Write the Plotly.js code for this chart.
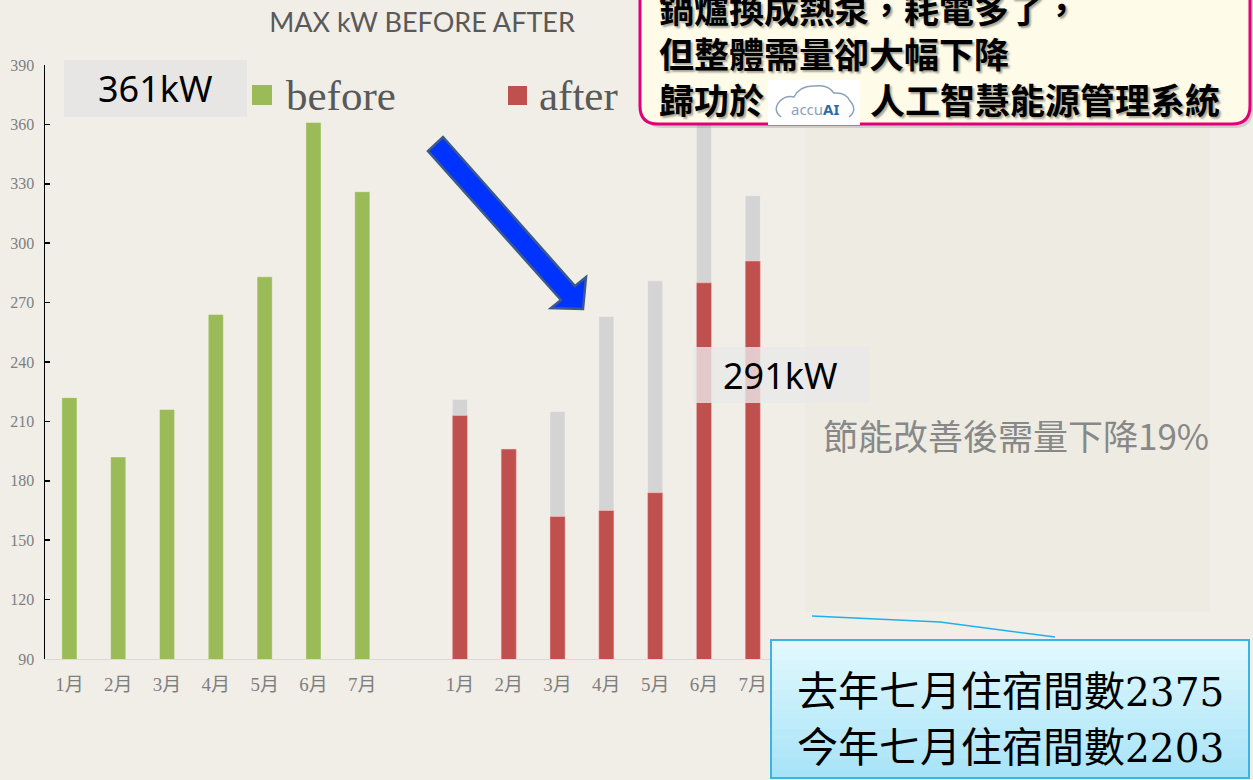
<!DOCTYPE html>
<html>
<head>
<meta charset="utf-8">
<script src="https://cdn.plot.ly/plotly-3.0.1.min.js"></script>
<style>
  html, body { margin: 0; padding: 0; background: #f1ede7; }
  #chart { width: 1253px; height: 780px; }
</style>
</head>
<body>
<div id="chart"></div>
<script>
// ---- data ----
const months = ['1月', '2月', '3月', '4月', '5月', '6月', '7月'];
const beforeKW = [222, 192, 216, 264, 283, 361, 326];
const lastYearRefKW = [221, 192, 215, 263, 281, 361, 324];
const afterKW = [213, 196, 162, 165, 174, 280, 291];
const groupGap = 8; // after-group starts at slot 8

// ---- pixel -> paper helpers for decorations ----
const L = 45, R = 826, T = 65, B = 659;
const X = x => (x - L) / (R - L);
const Y = y => (B - y) / (B - T);
const pt = (x, y) => X(x).toFixed(5) + ',' + Y(y).toFixed(5);

const beforeX = months.map((m, i) => i);
const afterX = months.map((m, i) => i + groupGap);

const traces = [
  { type: 'bar', name: 'before', x: beforeX, y: beforeKW, width: 0.31,
    marker: { color: '#9bbb59', line: { color: 'rgba(255,255,255,0.35)', width: 1 } },
    hoverinfo: 'y', showlegend: false },
  { type: 'bar', name: 'last year', x: afterX, y: lastYearRefKW, width: 0.31,
    marker: { color: '#d4d4d4', line: { color: 'rgba(255,255,255,0.3)', width: 1 } },
    hoverinfo: 'y', showlegend: false },
  { type: 'bar', name: 'after', x: afterX, y: afterKW, width: 0.31,
    marker: { color: '#c0504d', line: { color: 'rgba(255,200,200,0.5)', width: 1 } },
    hoverinfo: 'y', showlegend: false }
];

function rect(x0, y0, x1, y1, fill, extra) {
  return Object.assign({ type: 'rect', xref: 'paper', yref: 'paper',
    x0: X(x0), x1: X(x1), y0: Y(y1), y1: Y(y0),
    fillcolor: fill, line: { width: 0 }, layer: 'above' }, extra || {});
}
function path(d, fill, line, extra) {
  return Object.assign({ type: 'path', xref: 'paper', yref: 'paper', path: d,
    fillcolor: fill, line: line, layer: 'above' }, extra || {});
}

// arrow polygon
const arrowD = 'M ' + pt(443, 137) + ' L ' + pt(575, 286) + ' L ' + pt(586, 277) +
  ' L ' + pt(583, 309) + ' L ' + pt(551, 308) + ' L ' + pt(561, 300) +
  ' L ' + pt(428, 151) + ' Z';

// callout rounded rectangle (top part off-screen)
const cx0 = 640, cx1 = 1250, cy0 = -30, cy1 = 124, rr = 18;
const calloutD = 'M ' + pt(cx0, cy0) + ' L ' + pt(cx0, cy1 - rr) +
  ' Q ' + pt(cx0, cy1) + ' ' + pt(cx0 + rr, cy1) +
  ' L ' + pt(cx1 - rr, cy1) + ' Q ' + pt(cx1, cy1) + ' ' + pt(cx1, cy1 - rr) +
  ' L ' + pt(cx1, cy0) + ' Z';
const calloutShadowD = 'M ' + pt(cx0 + 4, cy0) + ' L ' + pt(cx0 + 4, cy1 + 4 - rr) +
  ' Q ' + pt(cx0 + 4, cy1 + 4) + ' ' + pt(cx0 + 4 + rr, cy1 + 4) +
  ' L ' + pt(cx1 + 3 - rr, cy1 + 4) + ' Q ' + pt(cx1 + 3, cy1 + 4) + ' ' + pt(cx1 + 3, cy1 + 4 - rr) +
  ' L ' + pt(cx1 + 3, cy0) + ' Z';

// cloud logo outline
const cloudD = 'M ' + pt(781, 117) + ' Q ' + pt(772, 110) + ' ' + pt(780, 101) +
  ' Q ' + pt(786, 95) + ' ' + pt(794, 97) + ' Q ' + pt(800, 85) + ' ' + pt(815, 86) +
  ' Q ' + pt(828, 84) + ' ' + pt(834, 93) + ' Q ' + pt(846, 92) + ' ' + pt(850, 101) +
  ' Q ' + pt(858, 110) + ' ' + pt(849, 117);

// connector line
const lineD = 'M ' + pt(812, 616) + ' L ' + pt(940, 622) + ' L ' + pt(1055, 637);

const shapes = [
  rect(805, 125, 1210, 612, '#edebe2', { layer: 'below' }),
  rect(64, 60, 247, 117, '#e7e6e4', { layer: 'below' }),
  rect(252, 85, 272, 105, '#9bbb59'),
  rect(508, 86, 527, 105, '#c0504d'),
  rect(693, 347, 870, 403, 'rgba(232,232,232,0.8)'),
  path(arrowD, '#0033ff', { color: '#3a5a8c', width: 2.5 }),
  path(calloutShadowD, 'rgba(120,120,120,0.25)', { width: 0 }),
  path(calloutD, '#fefce8', { color: '#e0007a', width: 3 }),
  rect(768, 80, 860, 125, '#ffffff'),
  path(cloudD, 'rgba(0,0,0,0)', { color: '#8aa2bb', width: 1.5 }),
  path(lineD, 'rgba(0,0,0,0)', { color: '#1fb0ea', width: 1.5 })
];

// bottom-right gradient box
const bx0 = 771, bx1 = 1249, by0 = 640, by1 = 778, strips = 14;
const c0 = [227, 249, 254], c1 = [166, 227, 247];
for (let i = 0; i < strips; i++) {
  const t = (i + 0.5) / strips;
  const c = c0.map((v, k) => Math.round(v + (c1[k] - v) * t));
  const ya = by0 + (by1 - by0) * i / strips;
  const yb = by0 + (by1 - by0) * (i + 1) / strips + 0.5;
  shapes.push(rect(bx0, ya, bx1, yb, 'rgb(' + c.join(',') + ')'));
}
shapes.push(rect(bx0, by0, bx1, by1, 'rgba(0,0,0,0)', { line: { color: '#3ab4e4', width: 2 } }));

function ann(text, px, py, opts) {
  return Object.assign({ text: text, xref: 'paper', yref: 'paper', x: X(px), y: Y(py),
    showarrow: false, xanchor: 'center', yanchor: 'middle' }, opts || {});
}
const cjk = 'Noto Sans CJK TC, Noto Sans, sans-serif';
const calloutFont = { family: cjk, size: 35, color: '#000', weight: 700,
  shadow: '2px 2px 2px rgba(0,0,0,0.35)' };
const digit = s => '<span style="font-family:DejaVu Serif;font-size:39px">' + s + '</span>';

const annotations = [
  ann('361kW', 155, 88, { font: { family: 'Noto Sans, sans-serif', size: 36, color: '#000' } }),
  ann('before', 284, 95, { xanchor: 'left', font: { family: 'Liberation Serif, serif', size: 43, color: '#595959' } }),
  ann('after', 537, 95, { xanchor: 'left', font: { family: 'Liberation Serif, serif', size: 43, color: '#595959' } }),
  ann('291kW', 780, 375, { font: { family: 'Noto Sans, sans-serif', size: 36, color: '#000' } }),
  ann('節能改善後需量下降19%', 1016, 434, { font: { family: cjk, size: 35, color: '#888888' } }),
  ann('鍋爐換成熱泵，耗電多了，', 657, 8, { xanchor: 'left', font: calloutFont }),
  ann('但整體需量卻大幅下降', 657, 52, { xanchor: 'left', font: calloutFont }),
  ann('歸功於', 657, 98, { xanchor: 'left', font: calloutFont }),
  ann('人工智慧能源管理系統', 868, 98, { xanchor: 'left', font: calloutFont }),
  ann('<span style="color:#8aa2bb">accu</span><b style="color:#2c6aa6">AI</b>', 815, 109,
    { font: { family: 'Noto Sans, sans-serif', size: 15, color: '#8aa2bb' } }),
  ann('去年七月住宿間數' + digit('2375'), 1010, 688,
    { font: { family: cjk, size: 41, color: '#000' } }),
  ann('今年七月住宿間數' + digit('2203'), 1010, 744,
    { font: { family: cjk, size: 41, color: '#000' } })
];

const layout = {
  width: 1253, height: 780,
  paper_bgcolor: '#f1ede7', plot_bgcolor: 'rgba(0,0,0,0)',
  margin: { l: L, r: 1253 - R, t: T, b: 780 - B, pad: 0 },
  barmode: 'overlay',
  title: { text: 'MAX kW BEFORE AFTER', x: 422 / 1253, xanchor: 'center',
    y: 1 - 23 / 780, yanchor: 'middle', xref: 'container', yref: 'container',
    font: { family: 'Lato, Noto Sans, sans-serif', size: 27, color: '#595959' } },
  xaxis: {
    range: [-0.5, 15.5], tickmode: 'array',
    tickvals: beforeX.concat(afterX), ticktext: months.concat(months),
    showline: true, linecolor: '#d9d9d9', linewidth: 1, ticks: '',
    showgrid: false, zeroline: false, ticklabelstandoff: 8,
    tickfont: { family: 'Liberation Serif, Noto Sans CJK TC, serif', size: 19, color: '#7f7f7f' }
  },
  yaxis: {
    range: [90, 390], tick0: 90, dtick: 30,
    showline: true, linecolor: '#000', linewidth: 1.5,
    ticks: 'inside', ticklen: 5, tickwidth: 1.5, tickcolor: '#000',
    showgrid: false, zeroline: false, ticklabelstandoff: 6,
    tickfont: { family: 'Liberation Serif, serif', size: 16, color: '#7f7f7f' }
  },
  shapes: shapes,
  annotations: annotations,
  showlegend: false
};

Plotly.newPlot('chart', traces, layout, { displayModeBar: false, staticPlot: true });
</script>
</body>
</html>
